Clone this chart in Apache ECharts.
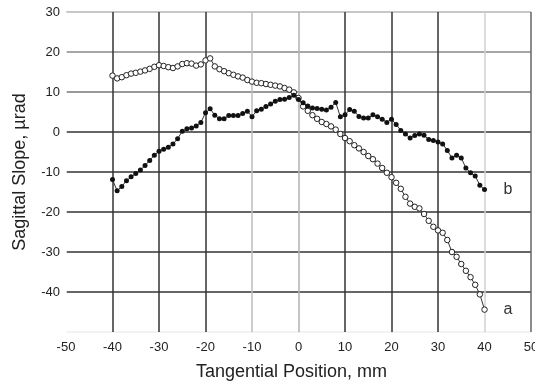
<!DOCTYPE html>
<html>
<head>
<meta charset="utf-8">
<script src="https://cdn.jsdelivr.net/npm/echarts@6/dist/echarts.min.js"></script>
<style>
  html, body { margin: 0; padding: 0; background: #fff; }
  #chart { width: 535px; height: 381px; }
</style>
</head>
<body>
<div id="chart"></div>
<script>
// Tangential positions (mm), one sample per millimetre
const positions = [];
for (let p = -40; p <= 40; p++) positions.push(p);

// Curve a: sagittal slope (µrad), open circles
const slopeA = [
  14.1, 13.4, 13.7, 14.2, 14.6, 14.8, 15.1, 15.4, 15.8, 16.3,
  16.7, 16.5, 16.2, 16.0, 16.4, 17.0, 17.2, 17.1, 16.6, 16.9,
  17.9, 18.4, 16.4, 15.7, 15.2, 14.7, 14.3, 13.9, 13.6, 13.0,
  12.6, 12.3, 12.2, 12.0, 11.8, 11.6, 11.4, 11.0, 10.6, 9.9,
  8.5, 6.4, 5.3, 4.2, 3.3, 2.5, 2.0, 1.4, 0.6, -0.5,
  -1.5, -2.3, -3.3, -4.1, -5.0, -6.0, -6.8, -7.9, -9.0, -10.2,
  -11.3, -12.7, -14.2, -16.2, -17.9, -18.7, -19.1, -20.5, -22.2, -23.7,
  -24.6, -25.2, -27.0, -30.0, -31.2, -33.0, -34.7, -36.3, -38.2, -40.6,
  -44.4
];

// Curve b: sagittal slope (µrad), filled dots
const slopeB = [
  -11.9, -14.7, -13.6, -12.2, -11.2, -10.4, -9.5, -8.4, -7.1, -5.8,
  -4.8, -4.3, -3.8, -3.0, -1.7, 0.2, 0.8, 1.0, 1.5, 2.4,
  4.8, 5.8, 4.2, 3.3, 3.3, 4.1, 4.1, 4.1, 4.6, 5.2,
  3.8, 5.3, 5.7, 6.4, 7.0, 7.7, 8.1, 8.2, 8.6, 9.2,
  8.1, 7.3, 6.5, 6.0, 5.9, 5.7, 5.5, 6.2, 7.4, 3.8,
  4.3, 5.6, 5.2, 3.9, 3.5, 3.5, 4.3, 3.8, 3.2, 2.4,
  3.2, 1.9, 0.4, -0.5, -1.5, -0.9, -0.5, -0.8, -1.9, -2.1,
  -2.5, -3.0, -4.6, -6.5, -5.8, -6.5, -9.0, -10.2, -11.0, -13.3,
  -14.4
];

// Axis ticks
const xTicks = [-50, -40, -30, -20, -10, 0, 10, 20, 30, 40, 50];
const yTicks = [-50, -40, -30, -20, -10, 0, 10, 20, 30];

const curveNames = ['a', 'b'];

const pairs = (ys) => positions.map((x, i) => [x, ys[i]]);

const font = 'Liberation Sans, Arial, sans-serif';

const chart = echarts.init(document.getElementById('chart'), null, { renderer: 'canvas' });

chart.setOption({
  animation: false,
  backgroundColor: '#ffffff',
  grid: {
    left: 66, right: 4, top: 12, bottom: 49,
    containLabel: false,
    outerBoundsMode: 'none'
  },
  xAxis: {
    type: 'value',
    min: xTicks[0],
    max: xTicks[xTicks.length - 1],
    interval: 10,
    name: 'Tangential Position, mm',
    nameLocation: 'middle',
    nameGap: 31,
    nameTextStyle: { fontFamily: font, fontSize: 18, color: '#222', padding: [0, 14, 0, 0] },
    axisLine: { show: false },
    axisTick: { show: false },
    axisLabel: { fontFamily: font, fontSize: 13, color: '#222', margin: 9 },
    splitLine: {
      show: true,
      lineStyle: {
        width: 1.5,
        color: ['#ffffff', '#333333', '#333333', '#333333', '#bdbdbd', '#b0b0b0',
                '#333333', '#333333', '#333333', '#d0d0d0', '#666666']
      }
    }
  },
  yAxis: {
    type: 'value',
    min: yTicks[0],
    max: yTicks[yTicks.length - 1],
    interval: 10,
    name: 'Sagittal Slope, µrad',
    nameLocation: 'middle',
    nameGap: 37,
    nameRotate: 90,
    nameTextStyle: { fontFamily: font, fontSize: 18, color: '#222' },
    axisLine: { show: false },
    axisTick: { show: false },
    axisLabel: {
      fontFamily: font, fontSize: 13, color: '#222', margin: 6,
      formatter: (v) => (v === yTicks[0] ? '' : String(v))
    },
    splitLine: {
      show: true,
      lineStyle: {
        width: 1.5,
        color: ['#eeeeee', '#333333', '#333333', '#333333', '#333333', '#333333',
                '#777777', '#888888', '#b5b5b5']
      }
    }
  },
  series: [
    {
      name: curveNames[0],
      type: 'line',
      data: pairs(slopeA),
      symbol: 'circle',
      symbolSize: 5.5,
      showAllSymbol: true,
      itemStyle: { color: '#ffffff', borderColor: '#222', borderWidth: 1 },
      lineStyle: { color: '#333', width: 1 },
      endLabel: {
        show: true, formatter: curveNames[0], distance: 19,
        fontFamily: font, fontSize: 16, color: '#333'
      },
      z: 3
    },
    {
      name: curveNames[1],
      type: 'line',
      data: pairs(slopeB),
      symbol: 'circle',
      symbolSize: 5,
      showAllSymbol: true,
      itemStyle: { color: '#111', borderColor: '#111', borderWidth: 0 },
      lineStyle: { color: '#333', width: 1 },
      endLabel: {
        show: true, formatter: curveNames[1], distance: 19,
        fontFamily: font, fontSize: 16, color: '#333'
      },
      z: 4
    }
  ]
});
</script>
</body>
</html>
